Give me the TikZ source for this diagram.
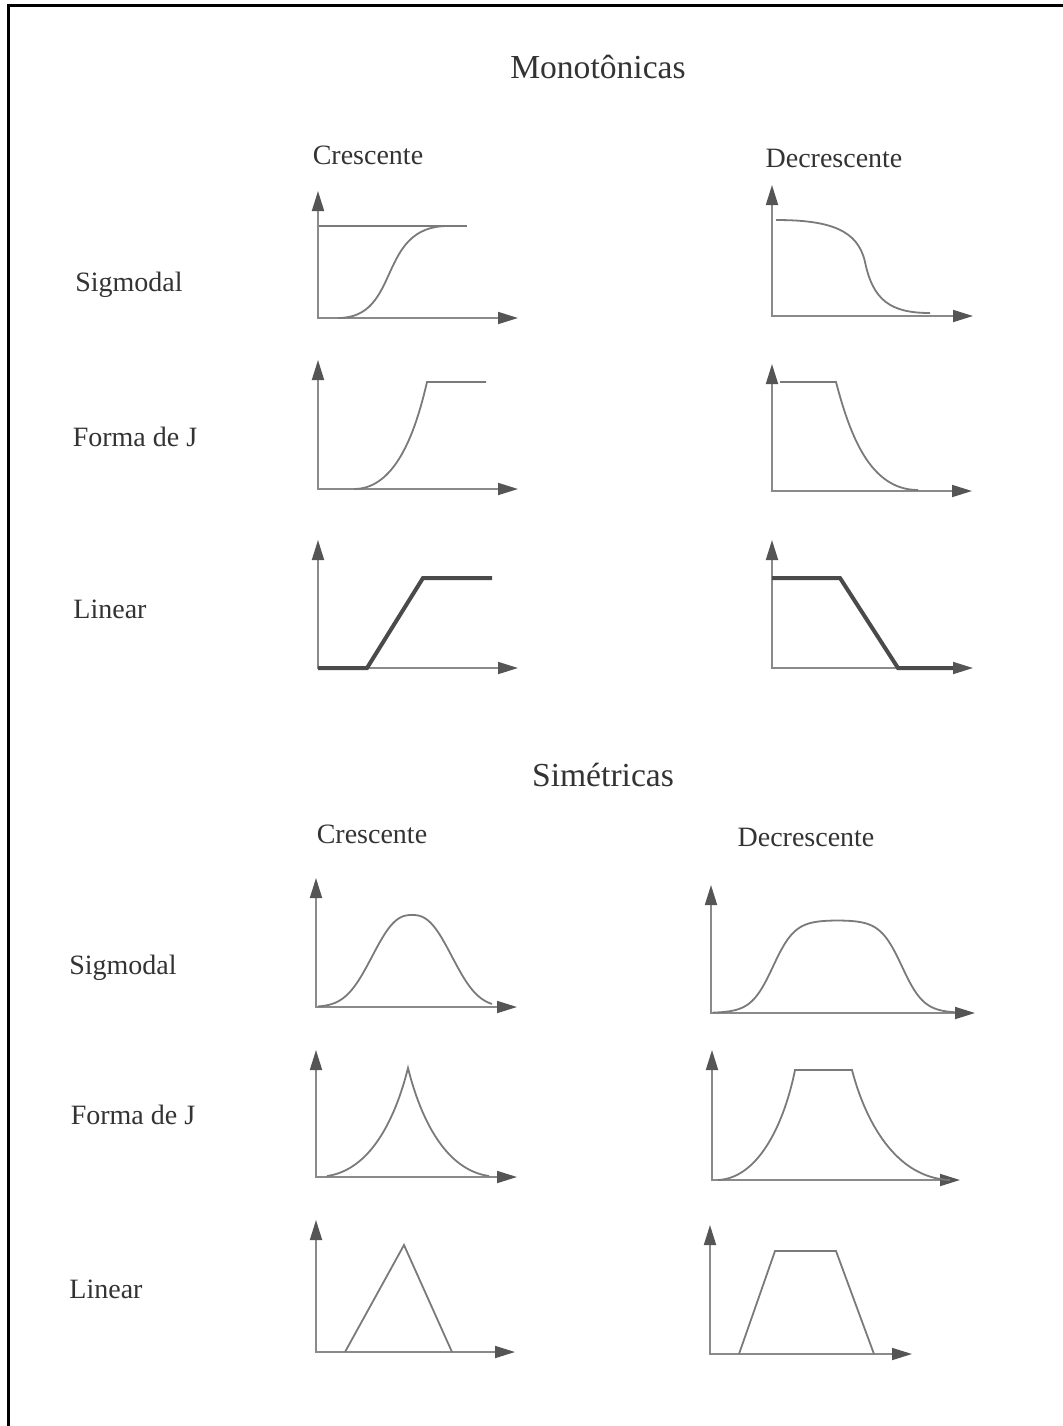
\documentclass[tikz,border=0pt]{standalone}
\usepackage{fontspec}
\setmainfont{Liberation Serif}
\usetikzlibrary{arrows.meta}
\definecolor{axisgray}{HTML}{8A8A8A}
\definecolor{tipgray}{HTML}{555555}
\definecolor{curvegray}{HTML}{7A7A7A}
\definecolor{thickgray}{HTML}{4A4A4A}
\definecolor{textgray}{HTML}{333333}
\tikzset{
  axisline/.style={draw=axisgray, line width=0.9pt,
    {Triangle[length=10pt,width=6pt,color=tipgray]}-{Triangle[length=10pt,width=6pt,color=tipgray]}},
  curve/.style={draw=curvegray, line width=0.9pt},
  thickcurve/.style={draw=thickgray, line width=2pt},
  lbl/.style={text=textgray, font=\fontsize{14}{16}\selectfont, inner sep=0pt, anchor=base},
  ttl/.style={text=textgray, font=\fontsize{16.8}{19}\selectfont, inner sep=0pt, anchor=base},
  frameline/.style={draw=black, line width=1.5pt},
}
\newcommand{\drawaxes}[5]{%
  \coordinate (#1o) at (#2,#3);
  \coordinate (#1y) at (#2,#4);
  \coordinate (#1x) at (#5,#3);
  \draw[axisline] (#1y) -- (#1o) -- (#1x);
}
\begin{document}
\begin{tikzpicture}[x=0.5pt,y=-0.5pt]
\useasboundingbox (0,0) rectangle (1063,1426);
% frame
\coordinate (fbl) at (8,1426);
\coordinate (ftl) at (8,5);
\coordinate (ftr) at (1063,5);
\draw[frameline] (fbl) -- (ftl) -- (ftr);

% titles and labels
\node[ttl] (tmono) at (598,78) {Monotônicas};
\node[lbl] (c1) at (368,164) {Crescente};
\node[lbl] (d1) at (834,167) {Decrescente};
\node[lbl] (s1) at (129,291) {Sigmodal};
\node[lbl] (j1) at (135,446) {Forma de J};
\node[lbl] (l1) at (110,618) {Linear};
\node[ttl] (tsim) at (603,786) {Simétricas};
\node[lbl] (c2) at (372,843) {Crescente};
\node[lbl] (d2) at (806,846) {Decrescente};
\node[lbl] (s2) at (123,974) {Sigmodal};
\node[lbl] (j2) at (133,1124) {Forma de J};
\node[lbl] (l2) at (106,1298) {Linear};

% ---------- Monotonic ----------
% sigmoid increasing
\drawaxes{pa}{318}{318}{191}{518}
\draw[curve] (319,226) -- (467,226);
\draw[curve] (338,318) .. controls (402,318) and (376,226) .. (448,226);
% sigmoid decreasing
\drawaxes{pb}{772}{316}{185}{973}
\draw[curve] (776,220) .. controls (830,220) and (858,230) .. (865,262)
  .. controls (873,300) and (890,313) .. (930,313);
% J increasing
\drawaxes{pc}{318}{489}{360}{518}
\draw[curve] (354,489) .. controls (398,489) and (417,425) .. (427,382) -- (486,382);
% J decreasing
\drawaxes{pd}{772}{491}{364}{972}
\draw[curve] (780,382) -- (836,382) .. controls (850,435) and (870,490) .. (918,490);
% linear increasing
\drawaxes{pe}{318}{668}{540}{518}
\draw[thickcurve] (318,668) -- (367,668) -- (423,578) -- (492,578);
% linear decreasing
\drawaxes{pf}{772}{668}{540}{973}
\draw[thickcurve] (772,578) -- (840,578) -- (898,668) -- (953,668);

% ---------- Symmetric ----------
% sigmoid bell
\drawaxes{pg}{316}{1007}{878}{517}
\draw[curve] plot[domain=318:492, samples=120, smooth]
  (\x, {1007-92*exp(-pow(abs(\x-412)/49+0.0001,2.5))});
% sigmoid plateau
\drawaxes{ph}{711}{1013}{885}{975}
\draw[curve] plot[domain=713:955, samples=120, smooth]
  (\x, {1013-93/(1+exp(-(\x-773)/11))/(1+exp((\x-902)/11))});
% J peak
\drawaxes{pi}{316}{1177}{1050}{517}
\draw[curve] (327,1176) .. controls (370,1170) and (395,1120) .. (408,1068)
  .. controls (421,1120) and (446,1170) .. (489,1176);
% J plateau
\drawaxes{pj}{712}{1180}{1050}{960}
\draw[curve] (718,1180) .. controls (760,1178) and (785,1120) .. (795,1070) -- (852,1070)
  .. controls (865,1120) and (895,1178) .. (950,1180);
% linear triangle
\drawaxes{pk}{316}{1352}{1220}{515}
\draw[curve] (345,1352) -- (404,1245) -- (452,1352);
% linear trapezoid
\drawaxes{pl}{710}{1354}{1225}{912}
\draw[curve] (739,1354) -- (775,1251) -- (836,1251) -- (874,1354);
\end{tikzpicture}
\end{document}
